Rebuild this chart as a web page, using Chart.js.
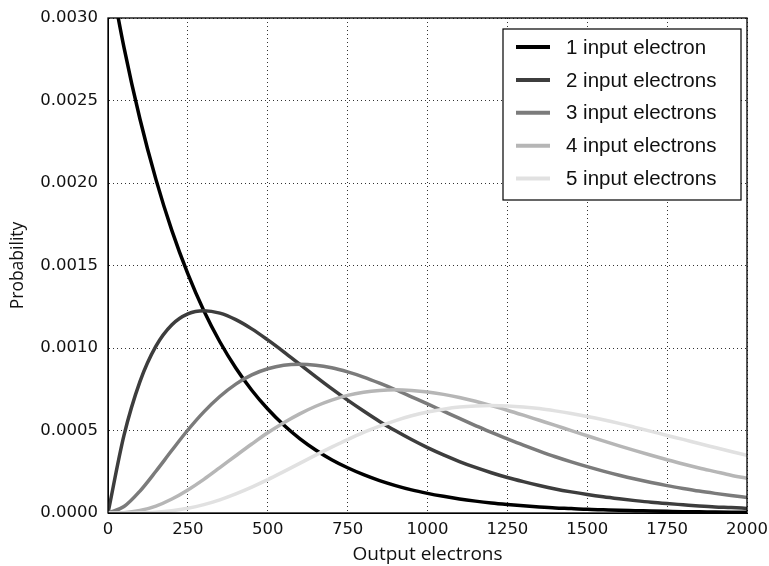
<!DOCTYPE html>
<html>
<head>
<meta charset="utf-8">
<script src="https://cdn.jsdelivr.net/npm/chart.js@4/dist/chart.umd.min.js"></script>
<style>
  html, body { margin: 0; padding: 0; background: #ffffff; }
  canvas { display: block; }
</style>
</head>
<body>
<canvas id="c" width="769" height="566"></canvas>
<script>
// ---- Data ----
const outputElectrons = [0, 50, 100, 150, 200, 250, 300, 350, 400, 450, 500, 550, 600, 650, 700, 750, 800, 850, 900, 950,
  1000, 1050, 1100, 1150, 1200, 1250, 1300, 1350, 1400, 1450, 1500, 1550, 1600, 1650, 1700, 1750, 1800, 1850, 1900, 1950, 2000];

const seriesLabels = ['1 input electron', '2 input electrons', '3 input electrons', '4 input electrons', '5 input electrons'];

const oneInput = [0.003333, 0.002822, 0.002388, 0.002022, 0.001711, 0.001449, 0.001226, 0.001038, 0.000879, 0.000744,
  0.000630, 0.000533, 0.000451, 0.000382, 0.000323, 0.000274, 0.000232, 0.000196, 0.000166, 0.000140,
  0.000119, 0.000101, 0.000085, 0.000072, 0.000061, 0.000052, 0.000044, 0.000037, 0.000031, 0.000027,
  0.000022, 0.000019, 0.000016, 0.000014, 0.000012, 0.000010, 0.000008, 0.000007, 0.000006, 0.000005, 0.000004];

const twoInput = [0, 0.000470, 0.000796, 0.001011, 0.001141, 0.001207, 0.001226, 0.001211, 0.001172, 0.001116,
  0.001049, 0.000977, 0.000902, 0.000827, 0.000754, 0.000684, 0.000618, 0.000555, 0.000498, 0.000445,
  0.000396, 0.000352, 0.000312, 0.000276, 0.000244, 0.000215, 0.000190, 0.000167, 0.000146, 0.000128,
  0.000112, 0.000098, 0.000086, 0.000075, 0.000065, 0.000057, 0.000050, 0.000043, 0.000037, 0.000033, 0.000028];

const threeInput = [0, 0.000039, 0.000133, 0.000253, 0.000380, 0.000503, 0.000613, 0.000706, 0.000781, 0.000837,
  0.000874, 0.000896, 0.000902, 0.000896, 0.000880, 0.000855, 0.000824, 0.000787, 0.000747, 0.000704,
  0.000661, 0.000617, 0.000573, 0.000530, 0.000488, 0.000449, 0.000411, 0.000375, 0.000341, 0.000310,
  0.000281, 0.000254, 0.000229, 0.000206, 0.000185, 0.000166, 0.000149, 0.000133, 0.000119, 0.000106, 0.000094];

const fourInput = [0, 0.000002, 0.000015, 0.000042, 0.000085, 0.000140, 0.000204, 0.000275, 0.000347, 0.000418,
  0.000486, 0.000547, 0.000601, 0.000647, 0.000684, 0.000713, 0.000732, 0.000743, 0.000747, 0.000743,
  0.000734, 0.000719, 0.000700, 0.000677, 0.000651, 0.000623, 0.000593, 0.000562, 0.000531, 0.000499,
  0.000468, 0.000437, 0.000407, 0.000378, 0.000350, 0.000323, 0.000297, 0.000273, 0.000251, 0.000229, 0.000210];

const fiveInput = [0, 0.000000, 0.000001, 0.000005, 0.000014, 0.000029, 0.000051, 0.000080, 0.000116, 0.000157,
  0.000202, 0.000251, 0.000301, 0.000351, 0.000399, 0.000445, 0.000488, 0.000526, 0.000560, 0.000589,
  0.000612, 0.000629, 0.000642, 0.000649, 0.000651, 0.000649, 0.000643, 0.000633, 0.000619, 0.000603,
  0.000585, 0.000565, 0.000543, 0.000519, 0.000495, 0.000470, 0.000446, 0.000421, 0.000397, 0.000373, 0.000349];

const xTickStep = 250;
const yTickStep = 0.0005;

// ---- Styling ----
const seriesColors = ['#000000', '#3d3d3d', '#7b7b7b', '#b6b6b6', '#e1e1e1'];
const allSeries = [oneInput, twoInput, threeInput, fourInput, fiveInput];

const datasets = allSeries.map((vals, i) => ({
  label: seriesLabels[i],
  data: outputElectrons.map((x, j) => ({ x: x, y: vals[j] })),
  borderColor: seriesColors[i],
  backgroundColor: seriesColors[i],
  borderWidth: 3.5,
  pointRadius: 0,
  fill: false,
  cubicInterpolationMode: 'monotone',
  clip: 0,
  order: allSeries.length - i
}));

const framePlugin = {
  id: 'frame',
  afterDatasetsDraw(chart) {
    const { ctx, chartArea: a } = chart;
    ctx.save();
    ctx.strokeStyle = '#000000';
    ctx.lineWidth = 1.3;
    ctx.strokeRect(a.left, a.top, a.right - a.left, a.bottom - a.top);
    ctx.restore();
  }
};

const legendBoxPlugin = {
  id: 'legendBox',
  afterDraw(chart) {
    const { ctx, chartArea: a } = chart;
    const right = a.right - 6, left = right - 238, top = a.top + 11, bottom = top + 171;
    ctx.save();
    ctx.fillStyle = '#ffffff';
    ctx.fillRect(left, top, right - left, bottom - top);
    ctx.strokeStyle = '#000000';
    ctx.lineWidth = 1.2;
    ctx.strokeRect(left, top, right - left, bottom - top);
    ctx.font = '20.5px "Liberation Sans", Arial, sans-serif';
    ctx.textBaseline = 'middle';
    ctx.textAlign = 'left';
    chart.data.datasets.forEach((ds, i) => {
      const y = top + 18 + i * 32.9;
      ctx.strokeStyle = ds.borderColor;
      ctx.lineWidth = 4;
      ctx.beginPath();
      ctx.moveTo(left + 13, y);
      ctx.lineTo(left + 47, y);
      ctx.stroke();
      ctx.fillStyle = '#111111';
      ctx.fillText(ds.label, left + 63, y + 1);
    });
    ctx.restore();
  }
};

new Chart(document.getElementById('c'), {
  type: 'line',
  data: { datasets: datasets },
  plugins: [framePlugin, legendBoxPlugin],
  options: {
    responsive: false,
    devicePixelRatio: 1,
    animation: false,
    layout: { padding: { top: 18, right: 22, left: 0, bottom: 0 } },
    plugins: { legend: { display: false }, tooltip: { enabled: false } },
    scales: {
      x: {
        type: 'linear',
        min: 0,
        max: 2000,
        afterFit: (s) => { s.height = 53; s.paddingRight = 0; s.paddingLeft = 0; },
        ticks: {
          stepSize: xTickStep,
          color: '#111111',
          padding: 7,
          maxRotation: 0,
          font: { family: '"DejaVu Sans", sans-serif', size: 16.5 },
          callback: (v) => String(v)
        },
        grid: { color: '#333333', lineWidth: 1, drawTicks: false },
        border: { display: true, color: '#000000', width: 1, dash: [1, 3] },
        title: {
          display: true,
          text: 'Output electrons',
          color: '#111111',
          font: { family: '"Open Sans", sans-serif', size: 19 },
          padding: { top: 0, bottom: 0 }
        }
      },
      y: {
        type: 'linear',
        min: 0,
        max: 0.003,
        afterFit: (s) => { s.width = 108; s.paddingTop = 0; s.paddingBottom = 0; },
        ticks: {
          stepSize: yTickStep,
          color: '#111111',
          padding: 10,
          font: { family: '"DejaVu Sans", sans-serif', size: 16.5 },
          callback: (v) => Number(v).toFixed(4)
        },
        grid: { color: '#333333', lineWidth: 1, drawTicks: false },
        border: { display: true, color: '#000000', width: 1, dash: [1, 3] },
        title: {
          display: true,
          text: 'Probability',
          color: '#111111',
          font: { family: '"Open Sans", sans-serif', size: 17.5 },
          padding: { top: 8, bottom: 0 }
        }
      }
    }
  }
});
</script>
</body>
</html>
